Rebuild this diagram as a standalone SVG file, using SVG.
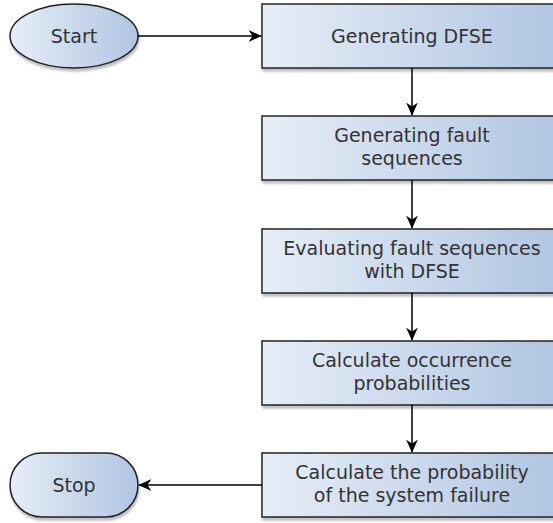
<svg xmlns="http://www.w3.org/2000/svg" width="553" height="523" viewBox="0 0 553 523">
  <defs>
    <linearGradient id="g" x1="0" y1="0" x2="1" y2="0">
      <stop offset="0" stop-color="#e6edf7"/>
      <stop offset="1" stop-color="#b0c5e2"/>
    </linearGradient>
    <filter id="sh" x="-10%" y="-10%" width="130%" height="130%">
      <feGaussianBlur in="SourceAlpha" stdDeviation="1"/>
      <feOffset dx="1" dy="3" result="b"/>
      <feComponentTransfer><feFuncA type="linear" slope="0.25"/></feComponentTransfer>
      <feMerge><feMergeNode/><feMergeNode in="SourceGraphic"/></feMerge>
    </filter>
    <marker id="arr" viewBox="0 0 10 10" refX="9.5" refY="5" markerWidth="13" markerHeight="13" markerUnits="userSpaceOnUse" orient="auto">
      <path d="M0,0.5 L10,5 L0,9.5 L3,5 Z" fill="#000"/>
    </marker>
  </defs>
  <style>
    .shape { fill: url(#g); stroke: #222; stroke-width: 1.5; filter: url(#sh); }
    .t { font-family: "DejaVu Sans", sans-serif; font-size: 19px; fill: #333; text-anchor: middle; }
    .c { stroke: #000; stroke-width: 1.5; fill: none; marker-end: url(#arr); }
  </style>
  <rect width="553" height="523" fill="#fff"/>

  <g id="start">
    <ellipse class="shape" cx="74" cy="36" rx="64" ry="32"/>
    <text class="t" x="74" y="43">Start</text>
  </g>
  <g id="n1">
    <rect class="shape" x="262" y="4" width="300" height="64"/>
    <text class="t" x="412" y="43">Generating DFSE</text>
  </g>
  <g id="n2">
    <rect class="shape" x="262" y="116" width="300" height="64"/>
    <text class="t" x="412" y="142">Generating fault</text>
    <text class="t" x="412" y="164.5">sequences</text>
  </g>
  <g id="n3">
    <rect class="shape" x="262" y="229" width="300" height="64"/>
    <text class="t" x="412" y="255">Evaluating fault sequences</text>
    <text class="t" x="412" y="277.5">with DFSE</text>
  </g>
  <g id="n4">
    <rect class="shape" x="262" y="341" width="300" height="64"/>
    <text class="t" x="412" y="367">Calculate occurrence</text>
    <text class="t" x="412" y="389.5">probabilities</text>
  </g>
  <g id="n5">
    <rect class="shape" x="262" y="453" width="300" height="64"/>
    <text class="t" x="412" y="479">Calculate the probability</text>
    <text class="t" x="412" y="501.5">of the system failure</text>
  </g>
  <g id="stop">
    <rect class="shape" x="10" y="453" width="128" height="64" rx="32" ry="32"/>
    <text class="t" x="74" y="492">Stop</text>
  </g>

  <g id="connectors">
    <line class="c" x1="138" y1="36" x2="261" y2="36"/>
    <line class="c" x1="412" y1="68" x2="412" y2="115"/>
    <line class="c" x1="412" y1="180" x2="412" y2="228"/>
    <line class="c" x1="412" y1="293" x2="412" y2="340"/>
    <line class="c" x1="412" y1="405" x2="412" y2="452"/>
    <line class="c" x1="262" y1="485" x2="139" y2="485"/>
  </g>
</svg>
